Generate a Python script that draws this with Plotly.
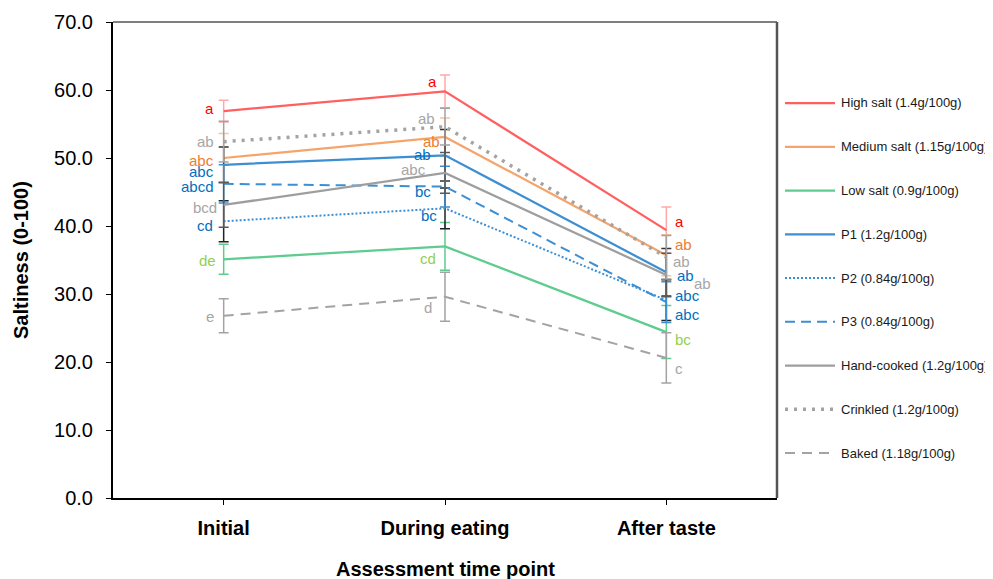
import plotly.graph_objects as go

# ---------------- data ----------------
categories = ["Initial", "During eating", "After taste"]

series_names = [
    "High salt (1.4g/100g)",
    "Medium salt (1.15g/100g)",
    "Low salt (0.9g/100g)",
    "P1 (1.2g/100g)",
    "P2 (0.84g/100g)",
    "P3 (0.84g/100g)",
    "Hand-cooked (1.2g/100g)",
    "Crinkled (1.2g/100g)",
    "Baked (1.18g/100g)",
]

high_salt = [56.9, 59.8, 39.4]
medium_salt = [50.0, 53.1, 35.7]
low_salt = [35.1, 37.0, 24.4]
p1 = [49.0, 50.4, 33.2]
p2 = [40.7, 42.6, 29.1]
p3 = [46.2, 45.8, 28.8]
hand_cooked = [43.1, 47.8, 32.8]
crinkled = [52.4, 54.6, 35.4]
baked = [26.8, 29.6, 20.6]

high_salt_err = [1.6, 2.4, 3.4]
medium_salt_err = [3.6, 2.8, 3.0]
low_salt_err = [2.2, 3.5, 3.9]
p1_err = [2.6, 3.8, 3.5]
p2_err = [3.0, 3.0, 3.0]
p3_err = [2.8, 3.0, 3.0]
hand_cooked_err = [3.3, 3.0, 3.2]
crinkled_err = [3.0, 2.7, 3.2]
baked_err = [2.5, 3.6, 3.7]

high_salt_letters = ["a", "a", "a"]
medium_salt_letters = ["abc", "ab", "ab"]
low_salt_letters = ["de", "cd", "bc"]
p1_letters = ["abc", "ab", "ab"]
p2_letters = ["cd", "bc", "abc"]
p3_letters = ["abcd", "bc", "abc"]
hand_cooked_letters = ["bcd", "abc", "ab"]
crinkled_letters = ["ab", "ab", "ab"]
baked_letters = ["e", "d", "c"]

values = [high_salt, medium_salt, low_salt, p1, p2, p3, hand_cooked, crinkled, baked]
errors = [high_salt_err, medium_salt_err, low_salt_err, p1_err, p2_err, p3_err,
          hand_cooked_err, crinkled_err, baked_err]
letters = [high_salt_letters, medium_salt_letters, low_salt_letters, p1_letters,
           p2_letters, p3_letters, hand_cooked_letters, crinkled_letters, baked_letters]

# ---------------- styles ----------------
FONT = "Arial, Liberation Sans, sans-serif"
line_colors = ["#FF5F5F", "#F5A46B", "#5ECC8E", "#3D8FD3", "#3D8FD3", "#3D8FD3",
               "#9E9E9E", "#A3A3A3", "#A3A3A3"]
line_dash = ["solid", "solid", "solid", "solid", "2px,2px", "10px,6px",
             "solid", "3px,6px", "10px,7px"]
line_width = [2.25, 2.25, 2.25, 2.25, 2.0, 2.0, 2.25, 3.5, 2.0]
err_colors = ["#FFA8A8", "#F8C29C", "#5ECC8E", "#333333", "#222222", "#3D8FD3",
              "#595959", "#A3A3A3", "#A3A3A3"]
letter_colors = ["#FF0000", "#ED7D31", "#92D050", "#0070C0", "#0070C0", "#0070C0",
                 "#A6A6A6", "#A6A6A6", "#A6A6A6"]

# label nudges (xshift, yshift) in pixels for each series and time point
nudges = [
    [(-8, 3), (-6, 10), (7, 9)],
    [(-8, -2), (-3, -5), (7, 11)],
    [(-6, -1), (-7, -12), (7, -7)],
    [(-8, -7), (-12, 1), (9, -3)],
    [(-9, -4), (-6, -7), (7, 5)],
    [(-8, -3), (-12, -5), (7, -12)],
    [(-5, -3), (-17, 3), (26, -9)],
    [(-8, 0), (-8, 8), (5, -4)],
    [(-8, -1), (-11, -11), (7, -11)],
]

fig = go.Figure()
xs = [0, 1, 2]
for i, name in enumerate(series_names):
    fig.add_trace(go.Scatter(
        x=xs, y=values[i], mode="lines", name=name, showlegend=False,
        line=dict(color=line_colors[i], dash=line_dash[i], width=line_width[i]),
        error_y=dict(type="data", array=errors[i], visible=True,
                     color=err_colors[i], thickness=1.5, width=5),
    ))

annotations = []
for i in range(len(series_names)):
    for j in range(3):
        xsft, ysft = nudges[i][j]
        annotations.append(dict(
            x=xs[j], y=values[i][j], xref="x", yref="y", text=letters[i][j],
            showarrow=False, xanchor="right" if xsft < 0 else "left",
            yanchor="middle", xshift=xsft, yshift=ysft,
            font=dict(family=FONT, size=15, color=letter_colors[i]),
        ))

# page coordinates of the plot area (the page body adds an 8px offset)
OFF = 8
PAGE_W, PAGE_H = 993, 579
L, R, T, B = 113, 777, 22, 498
W, H = R - L, B - T
def px(x):
    return (x - L) / W
def py(y):
    return (B - y) / H

shapes = []
for i, name in enumerate(series_names):
    yc = 103 + i * 43.75
    shapes.append(dict(type="line", xref="paper", yref="paper",
                       x0=px(785), x1=px(835), y0=py(yc), y1=py(yc),
                       line=dict(color=line_colors[i], dash=line_dash[i],
                                 width=line_width[i])))
    annotations.append(dict(x=px(839), y=py(yc), xref="paper", yref="paper",
                            text=name, showarrow=False, xanchor="left",
                            yanchor="middle",
                            font=dict(family=FONT, size=13, color="#1a1a1a")))

# axis titles
annotations.append(dict(x=0.5, y=py(569), xref="paper", yref="paper",
                        text="<b>Assessment time point</b>", showarrow=False,
                        xanchor="center", yanchor="middle",
                        font=dict(family=FONT, size=20, color="black")))
annotations.append(dict(x=px(21), y=0.5, xref="paper", yref="paper",
                        text="<b>Saltiness (0-100)</b>", showarrow=False,
                        textangle=-90, xanchor="center", yanchor="middle",
                        font=dict(family=FONT, size=20, color="black")))

# plot-area border: top and right
shapes.append(dict(type="line", xref="paper", yref="paper", x0=0, x1=1, y0=1, y1=1,
                   line=dict(color="black", width=1.2)))
shapes.append(dict(type="line", xref="paper", yref="paper", x0=1, x1=1, y0=0, y1=1,
                   line=dict(color="#555555", width=2.5)))

fig_w, fig_h = PAGE_W - OFF, PAGE_H - OFF
fig.update_layout(
    width=fig_w, height=fig_h,
    margin=dict(l=L - OFF, r=fig_w - (R - OFF), t=T - OFF, b=fig_h - (B - OFF),
                autoexpand=False),
    paper_bgcolor="white", plot_bgcolor="white",
    showlegend=False,
    font=dict(family=FONT, color="black"),
    annotations=annotations,
    shapes=shapes,
    xaxis=dict(
        range=[-0.5, 2.5], tickmode="array", tickvals=xs, ticktext=categories,
        showline=True, linecolor="black", linewidth=2,
        ticks="outside", tickson="boundaries", ticklen=5, tickcolor="black",
        tickfont=dict(family=FONT, size=20, color="black", weight="bold"),
        ticklabelstandoff=6, automargin=False,
        showgrid=False, zeroline=False,
    ),
    yaxis=dict(
        range=[0, 70], dtick=10, tickformat=".1f",
        showline=True, linecolor="black", linewidth=2,
        ticks="outside", ticklen=5, tickcolor="black",
        tickfont=dict(family=FONT, size=20, color="black"),
        ticklabelstandoff=9, automargin=False,
        showgrid=False, zeroline=False,
    ),
)

fig.write_html("out.html")
